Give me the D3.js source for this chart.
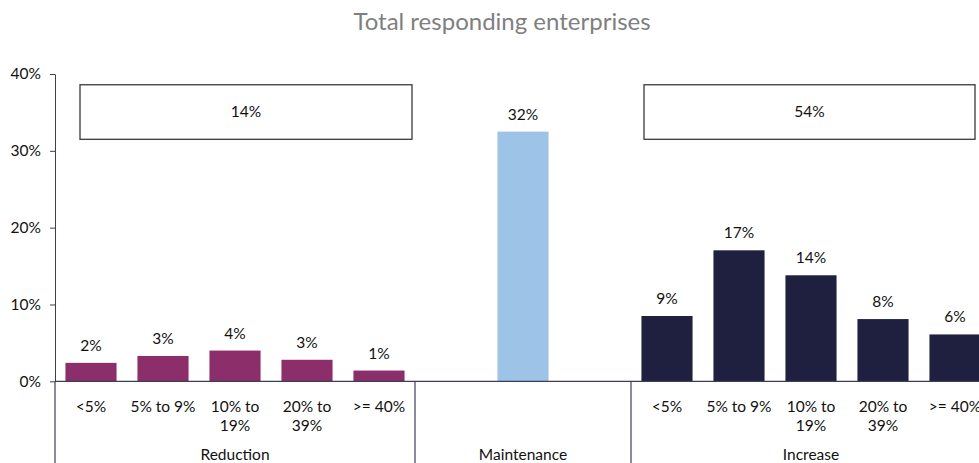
<!DOCTYPE html>
<html><head><meta charset="utf-8">
<script src="https://cdn.jsdelivr.net/npm/d3@7"></script>
<style>
body{margin:0;background:#fff;}
svg{display:block;font-family:Lato, "Open Sans", sans-serif;}
</style></head>
<body><svg id="c" width="979" height="463"></svg>
<script>
const title = "Total responding enterprises";
const slots = ["R1","R2","R3","R4","R5","M0","M","M2","I1","I2","I3","I4","I5"];
const barKeys = ["R1","R2","R3","R4","R5","M","I1","I2","I3","I4","I5"];
const barValues = [0.024,0.033,0.040,0.028,0.014,0.325,0.085,0.1705,0.138,0.081,0.061];
const barLabels = ["2%","3%","4%","3%","1%","32%","9%","17%","14%","8%","6%"];
const barGroup = ["Reduction","Reduction","Reduction","Reduction","Reduction","Maintenance","Increase","Increase","Increase","Increase","Increase"];
const catLabels = ["<5%","5% to 9%","10% to\n19%","20% to\n39%",">= 40%","","","","<5%","5% to 9%","10% to\n19%","20% to\n39%",">= 40%"];
const groups = ["Reduction","Maintenance","Increase"];
const groupSlots = [["R1","R5"],["M0","M2"],["I1","I5"]];
const totals = ["14%","54%"];
const totalGroups = ["Reduction","Increase"];
const yTicks = [0,0.1,0.2,0.3,0.4];
const colors = {Reduction:"#8b2e69",Maintenance:"#9dc3e6",Increase:"#1f203f"};

(function(){
const svg = d3.select("#c");
const left = 55, right = 991, plotTop = 74, base = 381.3;
const x = d3.scaleBand().domain(slots).range([left,right]).paddingInner(0.29).paddingOuter(0.145);
const y = d3.scaleLinear().domain([0,0.4]).range([base,plotTop]);
const axisColor = "#3b3d5c";
const fs = 15.5;

svg.append("text").attr("x",502).attr("y",30).attr("text-anchor","middle")
  .attr("font-size",24).attr("fill","#7f7f7f").text(title);

const ya = svg.append("g").attr("transform",`translate(${left},0)`)
  .call(d3.axisLeft(y).tickValues(yTicks).tickFormat(d3.format(".0%")).tickSize(5).tickSizeOuter(0));
ya.select(".domain").attr("stroke",axisColor);
ya.selectAll(".tick line").attr("stroke",axisColor);
ya.selectAll(".tick text").attr("font-family","Lato, sans-serif").attr("font-size",fs).attr("fill","#111").attr("x",-14);

svg.selectAll("rect.bar").data(barKeys).join("rect").attr("class","bar")
  .attr("x",d=>x(d)).attr("width",x.bandwidth())
  .attr("y",(d,i)=>y(barValues[i])).attr("height",(d,i)=>base-y(barValues[i]))
  .attr("fill",(d,i)=>colors[barGroup[i]]);

svg.selectAll("text.val").data(barKeys).join("text").attr("class","val")
  .attr("x",d=>x(d)+x.bandwidth()/2).attr("y",(d,i)=>y(barValues[i])-12)
  .attr("text-anchor","middle").attr("font-size",fs).attr("fill","#111").text((d,i)=>barLabels[i]);

svg.append("line").attr("x1",left).attr("x2",right).attr("y1",base).attr("y2",base).attr("stroke",axisColor).attr("stroke-width",1.2);
const step = x.step();
const bounds = [left, left+5*step, left+8*step];
svg.selectAll("line.div").data(bounds).join("line").attr("class","div")
  .attr("x1",d=>d).attr("x2",d=>d).attr("y1",base).attr("y2",463).attr("stroke",axisColor).attr("stroke-width",1.2);

slots.forEach((s,i)=>{
  const lines = catLabels[i].split("\n");
  const t = svg.append("text").attr("text-anchor","middle").attr("font-size",fs).attr("fill","#111");
  lines.forEach((l,j)=>t.append("tspan").attr("x",x(s)+x.bandwidth()/2).attr("y",412+j*18.5).text(l));
});
groups.forEach((g,i)=>{
  const a = x(groupSlots[i][0]), b = x(groupSlots[i][1])+x.bandwidth();
  svg.append("text").attr("x",(a+b)/2).attr("y",460).attr("text-anchor","middle")
    .attr("font-size",fs).attr("fill","#111").text(g);
});

const boxInset = {Reduction:[25,-3],Increase:[13,-16]};
totalGroups.forEach((g,i)=>{
  const gi = groups.indexOf(g);
  const a = bounds[gi] + boxInset[g][0];
  const b = bounds[gi] + 5*step + boxInset[g][1];
  const y1 = y(0.386), y2 = y(0.315);
  svg.append("rect").attr("x",a).attr("y",y1).attr("width",b-a).attr("height",y2-y1)
    .attr("fill","#fff").attr("stroke","#3a3a3a").attr("stroke-width",1.3);
  svg.append("text").attr("x",(a+b)/2).attr("y",(y1+y2)/2+5).attr("text-anchor","middle")
    .attr("font-size",fs).attr("fill","#111").text(totals[i]);
});
})();
</script></body></html>
